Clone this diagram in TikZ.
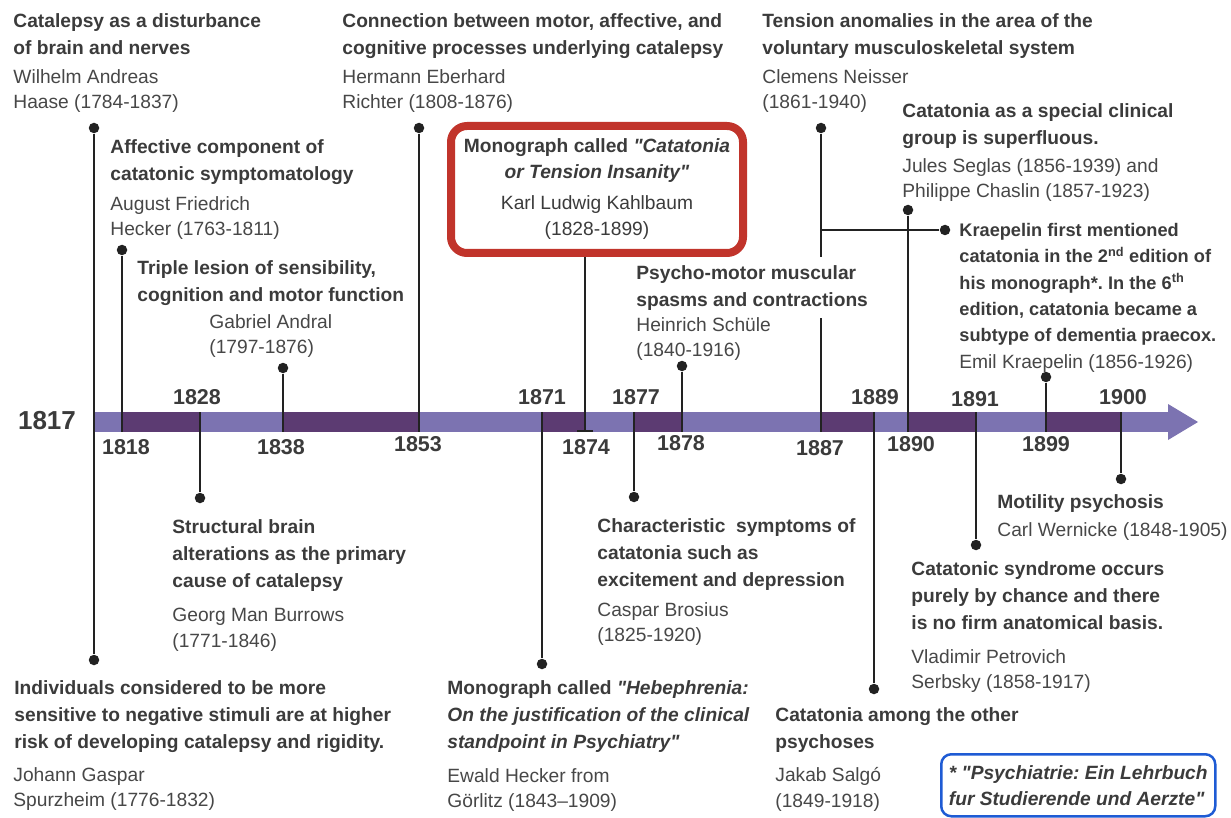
\documentclass[tikz,border=0pt]{standalone}
\usepackage{fontspec}
\setmainfont{Liberation Sans}
\usepackage{tikz}
\usetikzlibrary{arrows.meta}
\definecolor{ink}{HTML}{3B3B3B}
\definecolor{inkname}{HTML}{474747}
\definecolor{stem}{HTML}{222222}
\definecolor{barlight}{HTML}{7C73B1}
\definecolor{bardark}{HTML}{5C3B72}
\definecolor{redbox}{HTML}{C1342B}
\definecolor{bluebox}{HTML}{1E5BD4}
\frenchspacing

\begin{document}
\begin{tikzpicture}[x=1pt, y=-1pt, thick,
    main/.style = {circle, fill=stem, inner sep=0pt, minimum size=10.5pt},
    head/.style = {anchor=north west, inner sep=0pt, align=left, text=ink, font=\fontsize{19.2}{27}\selectfont\bfseries},
    who/.style = {anchor=north west, inner sep=0pt, align=left, text=inkname, font=\fontsize{19.2}{25.5}\selectfont},
    yr/.style = {inner sep=0pt, text=ink, font=\fontsize{21.5}{22}\selectfont\bfseries},
    stemline/.style = {draw=stem, line width=2pt}]
    \useasboundingbox (0,0) rectangle (1231,818);

    \fill[barlight] (94,412) rectangle (1170,432);
    \fill[barlight] (1168,404) -- (1198,422) -- (1168,440) -- cycle;
    \fill[bardark] (122,412) rectangle (200,432);
    \fill[bardark] (283,412) rectangle (419,432);
    \fill[bardark] (542,412) rectangle (585,432);
    \fill[bardark] (634,412) rectangle (682,432);
    \fill[bardark] (821,412) rectangle (874,432);
    \fill[bardark] (908,412) rectangle (976,432);
    \fill[bardark] (1046,412) rectangle (1121,432);
    \coordinate (top) at (0,412);
    \coordinate (bot) at (0,432);

	\node [main] (1817a) at (94, 128) {};
	\node [main] (1817b) at (94, 660) {};
	\node [main] (1818) at (122, 250) {};
	\node [main] (1828) at (200, 498) {};
	\node [main] (1838) at (283, 368) {};
	\node [main] (1853) at (419, 128) {};
	\node [main] (1871) at (542, 664) {};
	\node [main] (1877) at (634, 497) {};
	\node [main] (1878) at (682, 366) {};
	\node [main] (1887) at (821, 128) {};
	\node [main] (1889) at (874, 689) {};
	\node [main] (1890) at (908, 210) {};
	\node [main] (1891) at (976, 545) {};
	\node [main] (1899) at (1046, 377) {};
	\node [main] (1900) at (1121, 479) {};
	\node [main] (kr) at (945, 230) {};
    \coordinate (1874) at (585, 432);

    \draw[stemline] (1817a) -- (1817b);
    \draw[stemline] (1818) -- (1818 |- bot);
    \draw[stemline] (1828 |- top) -- (1828);
    \draw[stemline] (1838) -- (1838 |- bot);
    \draw[stemline] (1853) -- (1853 |- bot);
    \draw[stemline] (1871 |- top) -- (1871);
    \draw[stemline] (1877 |- top) -- (1877);
    \draw[stemline] (1878) -- (1878 |- bot);
    \draw[stemline] (1887) -- (1887 |- bot);
    \draw[stemline] (1889 |- top) -- (1889);
    \draw[stemline] (1890) -- (1890 |- bot);
    \draw[stemline] (1891 |- top) -- (1891);
    \draw[stemline] (1899) -- (1899 |- bot);
    \draw[stemline] (1900 |- top) -- (1900);
    \draw[stemline] (1887 |- kr) -- (kr);

	\node [yr, font=\fontsize{26}{26}\selectfont\bfseries] (l1817) at (47, 421) {1817};
	\node [yr] (l1828) at (197, 397) {1828};
	\node [yr] (l1871) at (542, 397) {1871};
	\node [yr] (l1877) at (636, 397) {1877};
	\node [yr] (l1889) at (875, 397) {1889};
	\node [yr] (l1891) at (975, 399) {1891};
	\node [yr] (l1900) at (1123, 397) {1900};
	\node [yr] (l1818) at (126, 447) {1818};
	\node [yr] (l1838) at (281, 447) {1838};
	\node [yr] (l1853) at (418, 444) {1853};
	\node [yr] (l1874) at (586, 447) {1874};
	\node [yr] (l1878) at (681, 443) {1878};
	\node [yr] (l1887) at (820, 448) {1887};
	\node [yr] (l1890) at (911, 444) {1890};
	\node [yr] (l1899) at (1046, 444) {1899};

	\node [head] (h1) at (13, 13) {Catalepsy as a disturbance\\of brain and nerves};
	\node [who] (w1) at (13, 69) {Wilhelm Andreas\\Haase (1784-1837)};
	\node [head] (h2) at (110, 139) {Affective component of\\catatonic symptomatology};
	\node [who] (w2) at (110, 196) {August Friedrich\\Hecker (1763-1811)};
	\node [head] (h3) at (137, 260) {Triple lesion of sensibility,\\cognition and motor function};
	\node [who] (w3) at (209, 314) {Gabriel Andral\\(1797-1876)};
	\node [head] (h4) at (342, 13) {Connection between motor, affective, and\\cognitive processes underlying catalepsy};
	\node [who] (w4) at (342, 69) {Hermann Eberhard\\Richter (1808-1876)};
	\node [head, fill=white, inner xsep=2pt, inner ysep=8pt] (h6) at (634, 257) {Psycho-motor muscular\\spasms and contractions};
	\node [who] (w6) at (636, 317) {Heinrich Schüle\\(1840-1916)};
	\node [head] (h7) at (762, 13) {Tension anomalies in the area of the\\voluntary musculoskeletal system};
	\node [who] (w7) at (762, 69) {Clemens Neisser\\(1861-1940)};
	\node [head] (h8) at (902, 103) {Catatonia as a special clinical\\group is superfluous.};
	\node [who] (w8) at (902, 158) {Jules Seglas (1856-1939) and\\Philippe Chaslin (1857-1923)};
	\node [head, font=\fontsize{18.2}{26.3}\selectfont\bfseries] (h9) at (959, 223) {Kraepelin first mentioned\\catatonia in the 2\textsuperscript{nd} edition of\\his monograph*. In the 6\textsuperscript{th}\\edition, catatonia became a\\subtype of dementia praecox.};
	\node [who] (w9) at (959, 354) {Emil Kraepelin (1856-1926)};

	\node [head] (h11) at (172, 519) {Structural brain\\alterations as the primary\\cause of catalepsy};
	\node [who] (w11) at (172, 608) {Georg Man Burrows\\(1771-1846)};
	\node [head] (h12) at (14, 680) {Individuals considered to be more\\sensitive to negative stimuli are at higher\\risk of developing catalepsy and rigidity.};
	\node [who] (w12) at (13, 767) {Johann Gaspar\\Spurzheim (1776-1832)};
	\node [head] (h13) at (447, 680) {Monograph called \textit{\textquotedbl Hebephrenia:}\\\textit{On the justification of the clinical}\\\textit{standpoint in Psychiatry\textquotedbl}};
	\node [who] (w13) at (447, 768) {Ewald Hecker from\\Görlitz (1843--1909)};
	\node [head] (h14) at (597, 518) {Characteristic~ symptoms of\\catatonia such as\\excitement and depression};
	\node [who] (w14) at (597, 602) {Caspar Brosius\\(1825-1920)};
	\node [head] (h15) at (775, 707) {Catatonia among the other\\psychoses};
	\node [who] (w15) at (775, 767) {Jakab Salgó\\(1849-1918)};
	\node [head] (h16) at (911, 561) {Catatonic syndrome occurs\\purely by chance and there\\is no firm anatomical basis.};
	\node [who] (w16) at (911, 649) {Vladimir Petrovich\\Serbsky (1858-1917)};
	\node [head] (h17) at (997, 494) {Motility psychosis};
	\node [who] (w17) at (997, 522) {Carl Wernicke (1848-1905)};

	\node [draw=redbox, line width=8pt, rounded corners=16pt, minimum width=292pt, minimum height=127pt, inner sep=0pt, align=center, text=ink, font=\fontsize{19.2}{26}\selectfont] (box) at (597, 189.5) {\textbf{Monograph called \textit{\textquotedbl Catatonia}}\\\textbf{\textit{or Tension Insanity\textquotedbl}}\\[5pt]Karl Ludwig Kahlbaum\\(1828-1899)};
    \draw[stemline, -{Bar[width=16pt]}] (box.south -| 1874) -- (1874);

	\node [draw=bluebox, line width=2.5pt, rounded corners=10pt, anchor=north west, minimum width=274pt, minimum height=62pt, inner sep=0pt, align=left, text=ink, font=\fontsize{19.2}{26}\selectfont\bfseries\itshape] (fn) at (940, 753) {* \textquotedbl Psychiatrie: Ein Lehrbuch\\fur Studierende und Aerzte\textquotedbl};

\end{tikzpicture}
\end{document}
